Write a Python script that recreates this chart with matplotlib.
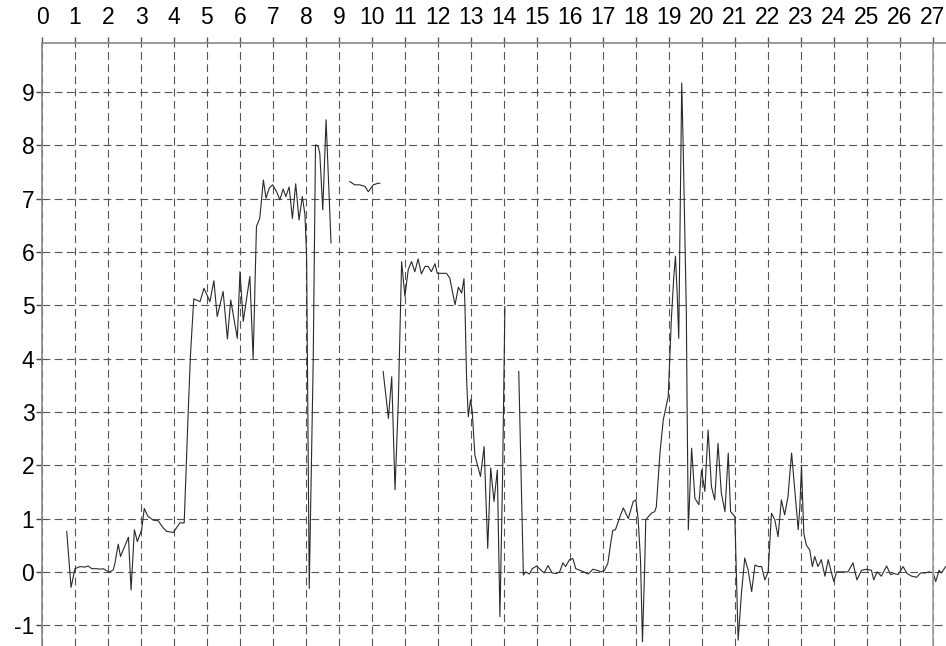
import matplotlib
matplotlib.use('Agg')
import matplotlib.pyplot as plt
import numpy as np

plt.rcParams['font.family'] = ['Liberation Sans', 'DejaVu Sans']
plt.rcParams['axes.unicode_minus'] = False

# trace data, NaN = gap in the record
x_vals = [
    0.75, 0.88, 1.0, 1.15, 1.3, 1.4, 1.51, 1.66, 1.76, 1.86, 1.96, 2.06, 2.16, 2.21,
    2.31, 2.38, 2.62, 2.7, 2.8, 2.89, 3.02, 3.1, 3.2, 3.37, 3.52, 3.68, 3.78, 3.98,
    4.18, 4.31, 4.43, 4.5, 4.6, 4.79, 4.91, 5.09, 5.21, 5.31, 5.49, 5.62, 5.72, 5.92,
    6.0, 6.1, 6.3, 6.4, 6.5, 6.6, 6.71, 6.79, 6.89, 6.99, 7.11, 7.21, 7.31, 7.39,
    7.49, 7.59, 7.69, 7.79, 7.89, 7.97, 8.02, 8.1, 8.22, 8.29, 8.37, 8.42, 8.51,
    8.61, 8.76,
    np.nan,
    9.33, 9.48, 9.63, 9.79, 9.89, 10.04, 10.19, 10.24,
    np.nan,
    10.34, 10.5, 10.6, 10.7, 10.8, 10.9, 11.0, 11.1, 11.2, 11.3, 11.4, 11.5, 11.61,
    11.7, 11.8, 11.91, 11.98, 12.26, 12.36, 12.52, 12.62, 12.72, 12.79, 12.82, 12.87,
    12.92, 12.99, 13.04, 13.12, 13.29, 13.4, 13.51, 13.6, 13.7, 13.8, 13.88, 13.96,
    14.03,
    np.nan,
    14.45, 14.59, 14.66, 14.77, 14.86, 14.99, 15.11, 15.22, 15.34, 15.46, 15.59,
    15.69, 15.79, 15.87, 15.99, 16.09, 16.18, 16.3, 16.42, 16.55, 16.7, 16.82, 16.95,
    17.05, 17.15, 17.25, 17.3, 17.38, 17.52, 17.62, 17.77, 17.92, 18.0, 18.07, 18.14,
    18.2, 18.27, 18.3, 18.47, 18.57, 18.62, 18.73, 18.83, 18.98, 19.08, 19.15, 19.2,
    19.25, 19.3, 19.33, 19.39, 19.43, 19.53, 19.55, 19.59, 19.69, 19.79, 19.91,
    19.99, 20.09, 20.19, 20.29, 20.39, 20.49, 20.59, 20.7, 20.8, 20.87, 21.0, 21.1,
    21.2, 21.3, 21.4, 21.51, 21.61, 21.71, 21.81, 21.91, 22.01, 22.11, 22.21, 22.31,
    22.41, 22.51, 22.61, 22.72, 22.82, 22.92, 22.97, 23.02, 23.09, 23.17, 23.27,
    23.35, 23.42, 23.52, 23.62, 23.73, 23.83, 23.93, 24.0, 24.08, 24.23, 24.43,
    24.58, 24.7, 24.84, 24.99, 25.14, 25.21, 25.31, 25.44, 25.6, 25.72, 25.82, 25.95,
    26.1, 26.22, 26.36, 26.51, 26.63, 26.76, 26.89, 27.01, 27.09, 27.19, 27.26, 27.39,
]
y_vals = [
    0.76, -0.29, 0.06, 0.1, 0.09, 0.11, 0.06, 0.06, 0.05, 0.06, 0.02, 0.0, 0.04, 0.16,
    0.52, 0.29, 0.65, -0.34, 0.79, 0.57, 0.79, 1.19, 1.05, 0.97, 0.96, 0.82, 0.76, 0.74,
    0.92, 0.92, 2.98, 4.07, 5.12, 5.07, 5.32, 5.07, 5.46, 4.79, 5.26, 4.37, 5.1, 4.38,
    5.63, 4.7, 5.54, 4.0, 6.48, 6.63, 7.35, 7.01, 7.2, 7.26, 7.13, 6.98, 7.18, 7.04,
    7.22, 6.63, 7.28, 6.6, 7.04, 6.7, 5.92, -0.31, 3.95, 8.01, 7.98, 7.85, 6.79,
    8.48, 6.17,
    np.nan,
    7.32, 7.26, 7.26, 7.23, 7.13, 7.26, 7.29, 7.29,
    np.nan,
    3.76, 2.88, 3.66, 1.54, 3.2, 5.82, 5.17, 5.67, 5.82, 5.63, 5.87, 5.59, 5.73,
    5.73, 5.63, 5.78, 5.6, 5.6, 5.51, 5.01, 5.34, 5.23, 5.5, 4.98, 3.6,
    2.91, 3.23, 3.01, 2.19, 1.79, 2.35, 0.44, 1.95, 1.32, 1.91, -0.84, 1.79,
    4.98,
    np.nan,
    3.76, -0.06, 0.0, -0.04, 0.06, 0.11, 0.04, -0.02, 0.12, -0.02, -0.03,
    0.0, 0.17, 0.1, 0.23, 0.25, 0.06, 0.03, 0.0, -0.04, 0.05, 0.03, 0.0,
    0.03, 0.16, 0.59, 0.78, 0.79, 1.04, 1.2, 1.0, 1.32, 1.35, 0.98, 0.23,
    -1.31, 0.16, 0.98, 1.1, 1.13, 1.22, 2.23, 2.85, 3.29, 4.79, 5.54, 5.92,
    5.24, 4.38, 6.04, 9.17, 8.1, 4.85, 3.29, 0.79, 2.32, 1.38, 1.26,
    1.91, 1.51, 2.66, 1.6, 1.35, 2.41, 1.48, 1.13, 2.23, 1.13, 1.04, -1.28,
    -0.4, 0.26, 0.04, -0.37, 0.13, 0.1, 0.1, -0.15, 0.0, 1.1, 0.98, 0.66,
    1.35, 1.07, 1.41, 2.23, 1.51, 0.79, 1.22, 1.98, 0.72, 0.5, 0.41,
    0.1, 0.29, 0.1, 0.23, -0.08, 0.23, -0.02, -0.18, 0.0, 0.0, 0.0,
    0.17, -0.15, 0.03, 0.05, 0.03, -0.15, 0.0, -0.08, 0.11, -0.05, -0.03, -0.05,
    0.1, -0.03, -0.08, -0.1, -0.02, -0.02, 0.0, -0.02, -0.18, 0.03, -0.02, 0.1,
]
x_ticks = list(range(0, 28))
y_ticks = list(range(-1, 10))

fig = plt.figure(figsize=(9.46, 6.46), dpi=100)
ax = fig.add_axes([42 / 946, 0, 904 / 946, 1 - 43 / 646])

ax.plot(x_vals, y_vals, color='#2a2a2a', linewidth=0.8)
ax.axvline(27, color='#a0a0a0', linewidth=1.2)

ax.set_xlim(0, 27.4)
ax.set_ylim(-1.39, 9.92)
ax.set_xticks(x_ticks)
ax.set_yticks(y_ticks)

ax.grid(True, color='#555555', linestyle=(0, (7, 4)), linewidth=0.8)
ax.set_axisbelow(True)

ax.xaxis.tick_top()
ax.tick_params(axis='x', direction='out', length=4, width=1, color='#555555',
               pad=6, labelsize=16.5)
ax.tick_params(axis='y', direction='out', length=4.5, width=1, color='#444444',
               pad=1, labelsize=16.5)

for side in ['right', 'bottom']:
    ax.spines[side].set_visible(False)
for side in ['left', 'top']:
    ax.spines[side].set_color('#888888')
    ax.spines[side].set_linewidth(1.2)

fig.savefig('out.png', dpi=100, facecolor='white')
